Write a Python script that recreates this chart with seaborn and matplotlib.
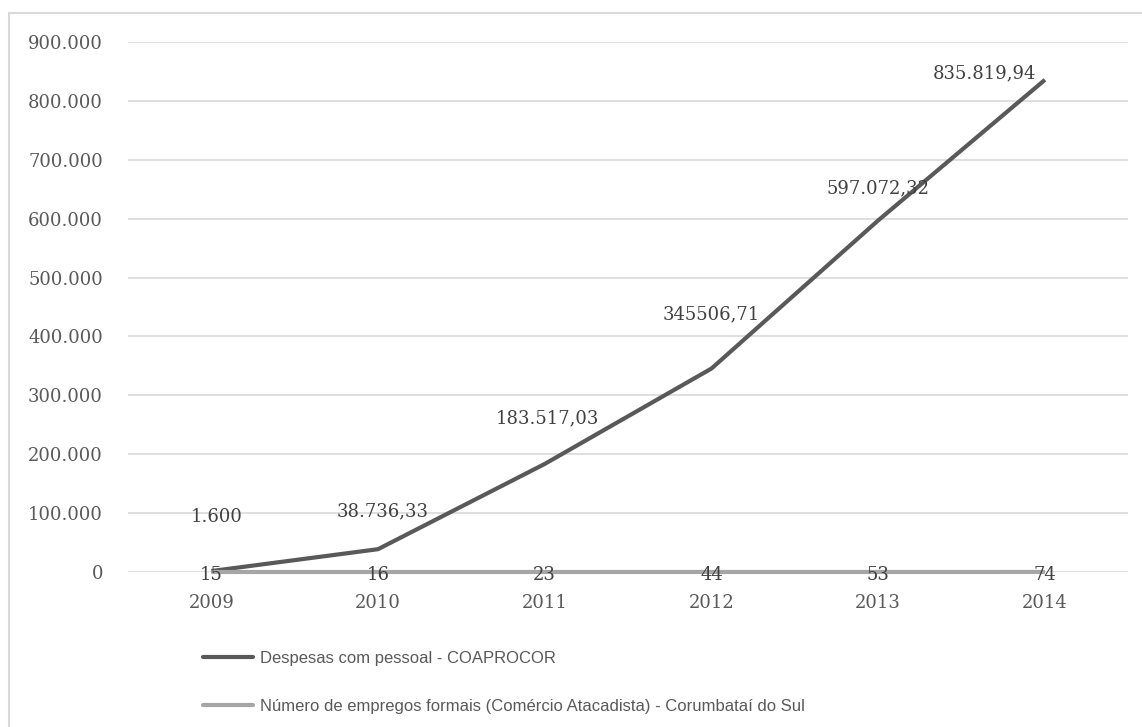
import numpy as np
import pandas as pd
import matplotlib
matplotlib.use("Agg")
import matplotlib.pyplot as plt
import seaborn as sns
from matplotlib.lines import Line2D
from matplotlib.patches import Rectangle
from matplotlib.ticker import FuncFormatter

# data
years = ["2009", "2010", "2011", "2012", "2013", "2014"]
despesas = [1600, 38736.33, 183517.03, 345506.71, 597072.32, 835819.94]
despesas_labels = ["1.600", "38.736,33", "183.517,03", "345506,71", "597.072,32", "835.819,94"]
empregos = [15, 16, 23, 44, 53, 74]
serie_names = ["Despesas com pessoal - COAPROCOR",
               "Número de empregos formais (Comércio Atacadista) - Corumbataí do Sul"]

df = pd.DataFrame({
    "x": list(range(len(years))) * 2,
    "valor": despesas + empregos,
    "serie": [serie_names[0]] * len(years) + [serie_names[1]] * len(years),
})

sns.set_theme(style="white")
tick_font = ["DejaVu Serif"]
leg_font = ["Liberation Sans Narrow", "Liberation Sans", "DejaVu Sans"]
txt_col = "#595959"
lab_col = "#404040"

fig = plt.figure(figsize=(11.42, 7.27), dpi=100)
ax = fig.add_axes([0.112, 0.2132, 0.876, 0.729])

# outer chart frame
fig.patches.append(Rectangle((9 / 1142, -0.2), 1.2, 1.2 - 13 / 727,
                             transform=fig.transFigure, fill=False,
                             edgecolor="#d9d9d9", linewidth=1.5))

palette = {serie_names[0]: "#595959", serie_names[1]: "#a6a6a6"}
sns.lineplot(data=df, x="x", y="valor", hue="serie", palette=palette,
             hue_order=serie_names,
             linewidth=3, ax=ax, legend=False, sort=False)
for ln in ax.lines:
    ln.set_clip_on(False)
    ln.set_solid_capstyle("butt")

ax.set_xlim(-0.5, 5.5)
ax.set_ylim(0, 900000)
ax.set_yticks(np.arange(0, 900001, 100000))
ax.yaxis.set_major_formatter(FuncFormatter(lambda v, p: f"{int(v):,}".replace(",", ".")))
ax.set_xticks(range(len(years)))
ax.set_xticklabels(years)
ax.grid(axis="y", color="#d9d9d9", linewidth=1.2)
ax.set_axisbelow(True)
for s in ax.spines.values():
    s.set_visible(False)
ax.set_xlabel("")
ax.set_ylabel("")
ax.tick_params(axis="both", length=0, colors=txt_col, labelsize=13)
ax.tick_params(axis="y", pad=18)
ax.tick_params(axis="x", pad=16)
for lab in ax.get_xticklabels() + ax.get_yticklabels():
    lab.set_family(tick_font)

# data labels, despesas (offsets in pixels, up is positive)
offsets = [(5, 54), (5, 38), (3, 46), (0, 54), (0, 32), (-60, 6)]
for i, (v, t) in enumerate(zip(despesas, despesas_labels)):
    dx, dy = offsets[i]
    ax.annotate(t, (i, v), xytext=(dx, dy), textcoords="offset pixels",
                ha="center", va="center", fontsize=13, color=lab_col,
                family=tick_font)

# data labels, empregos
for i, v in enumerate(empregos):
    ax.annotate(str(v), (i, v), xytext=(0, -3), textcoords="offset pixels",
                ha="center", va="center", fontsize=13, color=lab_col,
                family=tick_font)

# legend below the plot
handles = [Line2D([], [], color=palette[n], linewidth=3) for n in serie_names]
leg = fig.legend(handles, serie_names, loc="upper left",
                 bbox_to_anchor=(188 / 1142, 1 - 636 / 727), frameon=False,
                 handlelength=3.0, handletextpad=0.4, labelspacing=1.95,
                 prop={"family": leg_font, "size": 12})
for t in leg.get_texts():
    t.set_color(txt_col)

fig.savefig("out.png", dpi=100)
